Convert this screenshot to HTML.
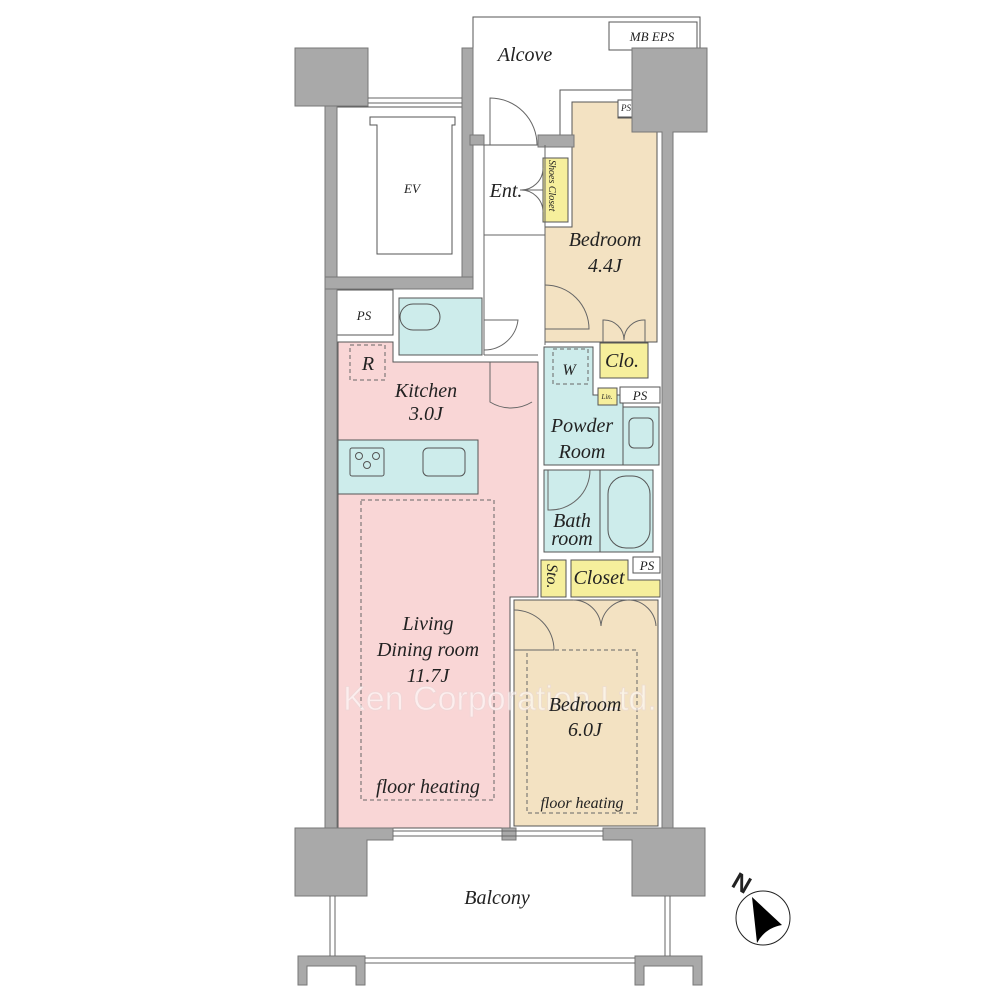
<!DOCTYPE html>
<html><head><meta charset="utf-8"><style>
html,body{margin:0;padding:0;background:#fff}
svg{display:block}
text{font-family:"Liberation Serif",serif;font-style:italic;fill:#222}
</style></head><body>
<svg width="1000" height="1000" viewBox="0 0 1000 1000" xmlns="http://www.w3.org/2000/svg">
<g stroke="#555" stroke-width="1">
<!-- alcove -->
<path d="M473 17 H700 V48 H632 V90 H560 V145 H473 Z" fill="#fff"/>
<rect x="609" y="22" width="88" height="28" fill="#fff"/>
<!-- floors -->
<path d="M338 342 H393 V362 H538 V597 H510 V828 H338 Z" fill="#f9d6d6"/>
<path d="M572 102 H618 V118 H657 V342 H545 V227 H572 Z" fill="#f3e2c2"/>
<rect x="514" y="600" width="144" height="226" fill="#f3e2c2"/>
<rect x="543" y="158" width="25" height="64" fill="#f6ef9c"/>
<path d="M544 347 H593 V395 H623 V407 H659 V465 H544 Z" fill="#cdeceb"/>
<rect x="544" y="470" width="109" height="82" fill="#cdeceb"/>
<line x1="600" y1="470" x2="600" y2="552"/>
<rect x="608" y="476" width="42" height="72" rx="18" fill="#cdeceb"/>
<line x1="623" y1="407" x2="623" y2="465"/>
<rect x="629" y="418" width="24" height="30" rx="5" fill="none"/>
<rect x="399" y="298" width="83" height="57" fill="#cdeceb"/>
<rect x="400" y="304" width="40" height="26" rx="13" fill="none"/>
<rect x="338" y="440" width="140" height="54" fill="#cdeceb"/>
<rect x="350" y="448" width="34" height="28" rx="2" fill="none"/>
<circle cx="359" cy="456" r="3.5" fill="none"/><circle cx="376" cy="456" r="3.5" fill="none"/><circle cx="367" cy="465" r="3.5" fill="none"/>
<rect x="423" y="448" width="42" height="28" rx="5" fill="none"/>
<rect x="600" y="343" width="48" height="35" fill="#f6ef9c"/>
<rect x="598" y="388" width="19" height="17" fill="#f6ef9c"/>
<rect x="541" y="560" width="25" height="37" fill="#f6ef9c"/>
<path d="M571 560 H628 V580 H660 V597 H571 Z" fill="#f6ef9c"/>
<rect x="620" y="387" width="40" height="16" fill="#fff"/>
<rect x="633" y="557" width="27" height="16" fill="#fff"/>
<rect x="618" y="100" width="40" height="17" fill="#fff"/>
<rect x="337" y="290" width="56" height="45" fill="#fff"/>
<!-- EV -->
<rect x="337" y="107" width="125" height="170" fill="#fff"/>
<path d="M370 117 H455 V125 H452 V254 H377 V125 H370 Z" fill="#fff"/>
</g>
<g fill="none" stroke="#666" stroke-dasharray="4 3">
<rect x="350" y="345" width="35" height="35"/>
<rect x="361" y="500" width="133" height="300"/>
<rect x="527" y="650" width="110" height="163"/>
<rect x="553" y="349" width="35" height="35"/>
</g>
<!-- walls -->
<g fill="#a9a9a9" stroke="#777" stroke-width="1">
<rect x="295" y="48" width="73" height="58"/>
<rect x="325" y="106" width="12" height="722"/>
<rect x="462" y="48" width="11" height="241"/>
<rect x="325" y="277" width="148" height="12"/>
<path d="M632 48 H707 V132 H673 V828 H662 V132 H632 Z"/>
<path d="M295 828 H393 V840 H367 V896 H295 Z"/>
<path d="M603 828 H705 V896 H632 V840 H603 Z"/>
<rect x="502" y="828" width="14" height="12"/>
<rect x="470" y="135" width="14" height="10"/>
<rect x="538" y="135" width="36" height="12"/>
<path d="M298 956 H365 V985 H356 V966 H307 V985 H298 Z"/>
<path d="M635 956 H702 V985 H693 V966 H644 V985 H635 Z"/>
</g>
<g stroke="#666" fill="none" stroke-width="1">
<line x1="484" y1="145" x2="484" y2="355"/><line x1="545" y1="145" x2="545" y2="345"/>
<line x1="484" y1="235" x2="545" y2="235"/><line x1="484" y1="355" x2="538" y2="355"/>
<path d="M490 145 V98 A47 47 0 0 1 537 145"/>
<path d="M543 190 H520 A22 22 0 0 0 543 168"/><path d="M543 190 H520 A22 22 0 0 1 543 212"/>
<path d="M545 285 A44 44 0 0 1 589 329 H545"/>
<path d="M484 320 H518 A34 34 0 0 1 484 350"/>
<path d="M490 362 V402 A40 40 0 0 0 532 402"/>
<path d="M548 470 V510 A40 40 0 0 0 590 470"/>
<path d="M603 342 V320 A20 20 0 0 1 624 340 M645 342 V320 A20 20 0 0 0 624 340"/>
<path d="M514 610 A40 40 0 0 1 554 650 H514"/>
<path d="M573 600 A28 28 0 0 1 601 626 M628 600 A28 28 0 0 0 601 626 M630 600 A28 28 0 0 1 656 626"/>
<line x1="330" y1="896" x2="330" y2="956"/><line x1="335" y1="896" x2="335" y2="956"/>
<line x1="665" y1="896" x2="665" y2="956"/><line x1="670" y1="896" x2="670" y2="956"/>
<line x1="365" y1="958" x2="635" y2="958"/><line x1="365" y1="963" x2="635" y2="963"/>
<line x1="393" y1="831" x2="603" y2="831"/><line x1="393" y1="836" x2="603" y2="836"/>
<line x1="368" y1="98" x2="462" y2="98"/><line x1="368" y1="103" x2="462" y2="103"/>
<circle cx="763" cy="918" r="27" stroke="#222"/>
</g>
<path d="M752 897 L757 943 Q765 928 782 925 Z" fill="#000"/>
<text x="733" y="893" transform="rotate(30 745 884)" style="font-style:normal;font-family:'Liberation Sans',sans-serif;font-weight:bold;font-size:24px">N</text>
<text x="500" y="710" font-size="34" style="font-style:normal;font-family:'Liberation Sans',sans-serif;fill:#fff;stroke:#ead8d8;stroke-width:0.8" text-anchor="middle" opacity="0.6">Ken Corporation Ltd.</text>
<g font-size="20" text-anchor="middle">
<text x="525" y="61">Alcove</text>
<text x="506" y="197">Ent.</text>
<text x="605" y="246">Bedroom</text><text x="605" y="272">4.4J</text>
<text x="426" y="397">Kitchen</text><text x="426" y="420">3.0J</text>
<text x="582" y="432">Powder</text><text x="582" y="458">Room</text>
<text x="572" y="527">Bath</text><text x="572" y="545">room</text>
<text x="599" y="584">Closet</text>
<text x="428" y="630">Living</text><text x="428" y="656">Dining room</text><text x="428" y="682">11.7J</text>
<text x="428" y="793">floor heating</text>
<text x="585" y="711">Bedroom</text><text x="585" y="736">6.0J</text>
<text x="497" y="904">Balcony</text>
<text x="368" y="370">R</text>
<text x="622" y="367">Clo.</text>
</g>
<g font-size="16" text-anchor="middle">
<text x="582" y="808">floor heating</text>
<text x="569" y="375">W</text>
</g>
<g font-size="13" text-anchor="middle">
<text x="652" y="41">MB  EPS</text>
<text x="364" y="320">PS</text>
<text x="412" y="193">EV</text>
<text x="640" y="400">PS</text>
<text x="647" y="570">PS</text>
</g>
<text x="621" y="111" font-size="9">PS</text>
<text x="607" y="399" font-size="7" text-anchor="middle">Lin.</text>
<text font-size="10" transform="translate(549 160) rotate(90)">Shoes Closet</text>
<text font-size="16" transform="translate(547 564) rotate(90)">Sto.</text>
</svg>
</body></html>
